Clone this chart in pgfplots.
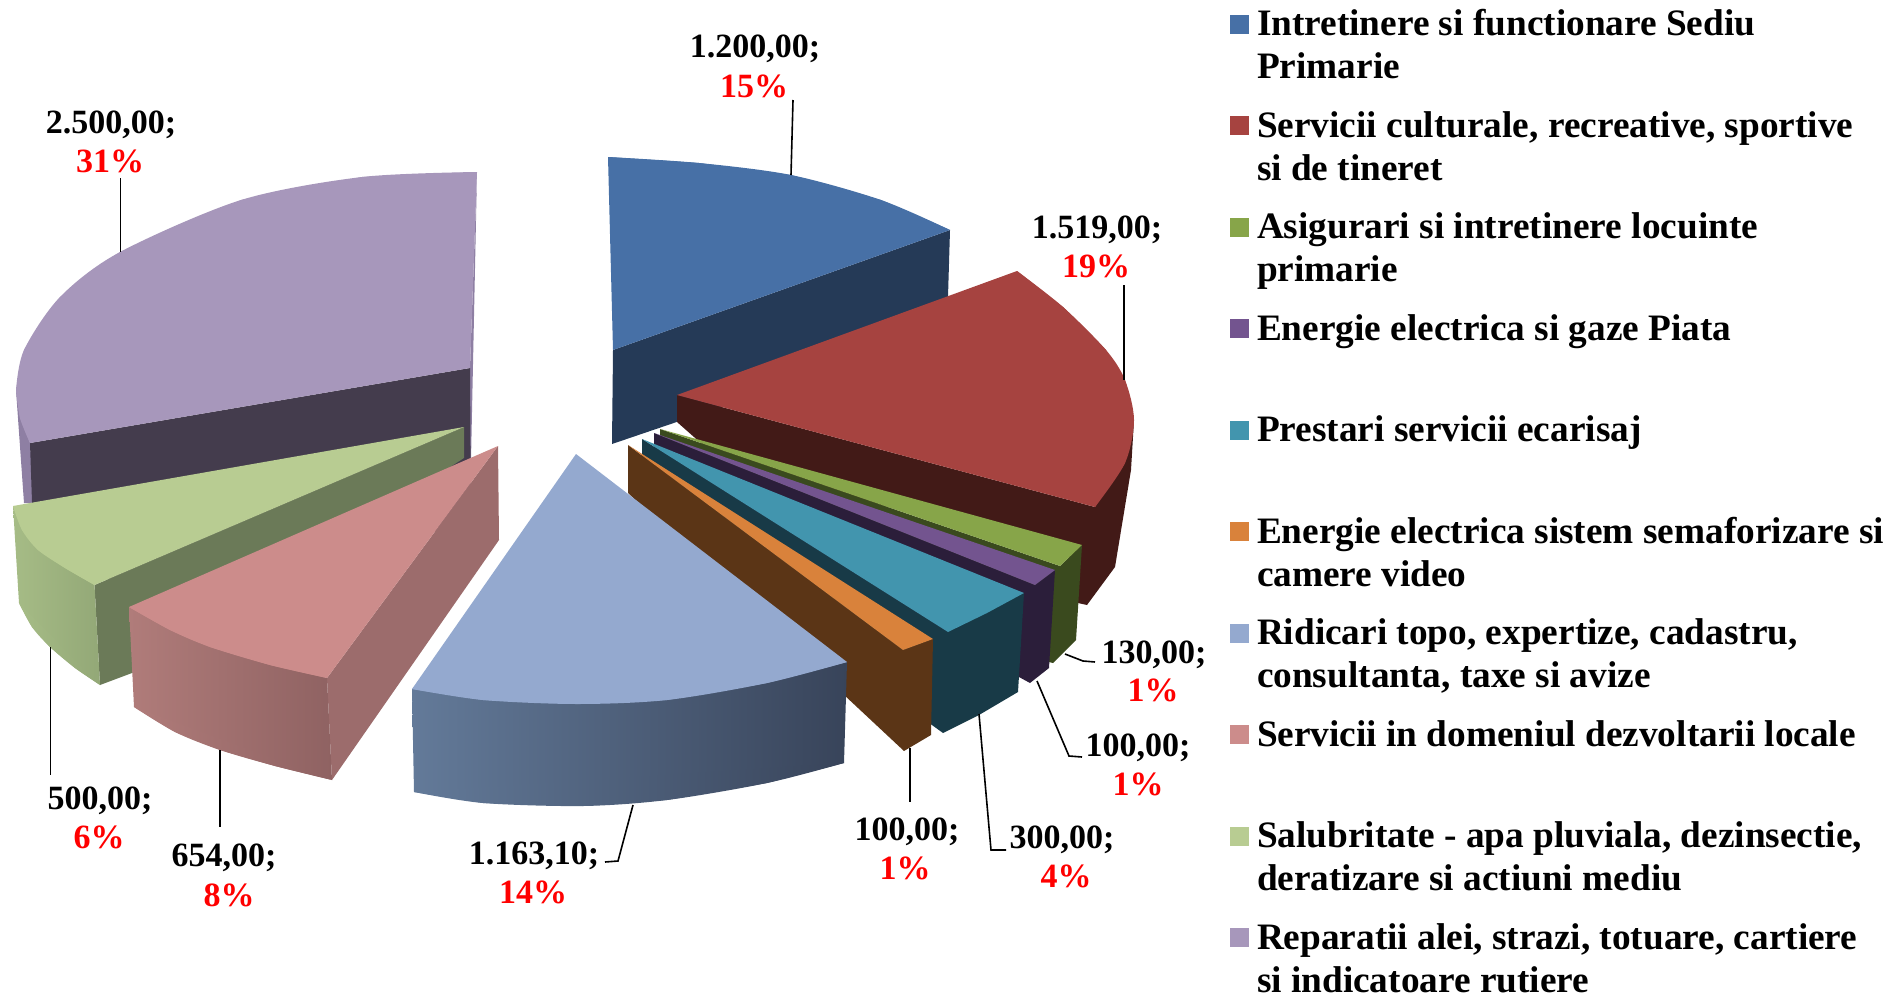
\documentclass[border=0pt]{standalone}
\usepackage{fontspec}
\setmainfont{Liberation Serif}
\usepackage{pgfplots}
\pgfplotsset{compat=1.18}
\definecolor{cA}{HTML}{4770A6}\definecolor{cAd}{HTML}{253A57}
\definecolor{cB}{HTML}{A64340}\definecolor{cBd}{HTML}{421A17}
\definecolor{cC}{HTML}{87A549}\definecolor{cCd}{HTML}{3A4A1E}
\definecolor{cD}{HTML}{73548F}\definecolor{cDd}{HTML}{2B1E3A}
\definecolor{cE}{HTML}{4295AE}\definecolor{cEd}{HTML}{183A47}
\definecolor{cF}{HTML}{D9823B}\definecolor{cFd}{HTML}{5B3516}
\definecolor{cG}{HTML}{94A9CF}\definecolor{cGl}{HTML}{637A99}\definecolor{cGr}{HTML}{38445A}
\definecolor{cH}{HTML}{CC8C8B}\definecolor{cHd}{HTML}{9C6C6C}\definecolor{cHl}{HTML}{B07C7A}\definecolor{cHr}{HTML}{8F6262}
\definecolor{cI}{HTML}{B8CC92}\definecolor{cId}{HTML}{6B7A58}\definecolor{cIl}{HTML}{A6BC86}\definecolor{cIr}{HTML}{93A877}
\definecolor{cJ}{HTML}{A797BB}\definecolor{cJd}{HTML}{443C4D}\definecolor{cJs}{HTML}{8E7FA3}
\newcommand{\lgd}[1]{\smash{\parbox[t]{640pt}{#1}}}
\newcommand{\lab}[6]{%
 \node[anchor=base,text=black] at (axis cs:#1,#2) {#5};
 \node[anchor=base,text=red] at (axis cs:#3,#4) {#6};}
\begin{document}
\begin{tikzpicture}
\useasboundingbox (0,0) rectangle (1890pt,996pt);
\begin{axis}[
 at={(0,0)},anchor=south west,
 scale only axis,width=1890pt,height=996pt,
 xmin=0,xmax=1890,ymin=0,ymax=996,y dir=reverse,
 hide axis,clip=false,
 font=\fontsize{34}{43}\selectfont\bfseries,
 nodes={inner sep=0pt,outer sep=0pt},
 legend image code/.code={\fill[#1] (0pt,21pt) rectangle (19pt,40pt);},
 legend cell align=left,
 legend style={draw=none,fill=none,inner sep=0pt,outer sep=0pt,row sep=0pt,
   at={(axis cs:1230,4)},anchor=north west,
   font=\fontsize{37.3}{43}\selectfont\bfseries,
   nodes={inner sep=0pt,outer sep=0pt,text height=31.5pt,text depth=70pt},
   /tikz/every odd column/.append style={column sep=8pt}},
 every axis plot/.append style={forget plot,draw=none},
]
\addlegendimage{fill=cA}\addlegendentry{\lgd{Intretinere si functionare Sediu\\Primarie}}
\addlegendimage{fill=cB}\addlegendentry{\lgd{Servicii culturale, recreative, sportive\\si de tineret}}
\addlegendimage{fill=cC}\addlegendentry{\lgd{Asigurari si intretinere locuinte\\primarie}}
\addlegendimage{fill=cD}\addlegendentry{\lgd{Energie electrica si gaze Piata}}
\addlegendimage{fill=cE}\addlegendentry{\lgd{Prestari servicii ecarisaj}}
\addlegendimage{fill=cF}\addlegendentry{\lgd{Energie electrica sistem semaforizare si\\camere video}}
\addlegendimage{fill=cG}\addlegendentry{\lgd{Ridicari topo, expertize, cadastru,\\consultanta, taxe si avize}}
\addlegendimage{fill=cH}\addlegendentry{\lgd{Servicii in domeniul dezvoltarii locale}}
\addlegendimage{fill=cI}\addlegendentry{\lgd{Salubritate - apa pluviala, dezinsectie,\\deratizare si actiuni mediu}}
\addlegendimage{fill=cJ}\addlegendentry{\lgd{Reparatii alei, strazi, totuare, cartiere\\si indicatoare rutiere}}

% Reparatii (lilac)
\addplot[fill=cJs] coordinates {(16,390)(24,503)(35,503)(30,443)(16,390)};
\addplot[fill=cJs] coordinates {(477,172)(471,460)(468,460)(470,368)(477,172)};
\addplot[fill=cJd] coordinates {(30,443)(470,368)(471,526)(35,590)(30,443)};
\addplot[fill=cJ] coordinates {(477,172)(362,177)(241,200)(120,252)(60,297)(24,350)(16,390)(20,418)(30,443)(470,368)(477,172)};
\addplot[fill=cJ,smooth] coordinates {(477,172)(362,177)(241,200)(120,252)(60,297)(24,350)(16,390)};
\addplot[fill=cJ,smooth] coordinates {(16,390)(20,418)(30,443)};
% Intretinere (blue)
\addplot[fill=cAd] coordinates {(613,350)(950,230)(947,330)(612,444)(613,350)};
\addplot[fill=cA] coordinates {(608,157)(699,163)(791,175)(881,200)(950,230)(613,350)(608,157)};
\addplot[fill=cA,smooth] coordinates {(608,157)(699,163)(791,175)(881,200)(950,230)};
% Servicii culturale (red)
\addplot[fill=cBd] coordinates {(677,395)(1095,507)(1134,420)(1131,470)(1115,567)(1087,605)(1078,603)(1078,560)(720,460)(677,422)(677,395)};
\addplot[fill=cB] coordinates {(677,395)(1017,271)(1063,307)(1106,350)(1125,380)(1134,420)(1125,463)(1095,507)(677,395)};
\addplot[fill=cB,smooth] coordinates {(1017,271)(1063,307)(1106,350)(1125,380)(1134,420)(1125,463)(1095,507)};
% Asigurari (green)
\addplot[fill=cCd] coordinates {(660,429)(1060,566)(1082,545)(1076,640)(1053,663)(1040,660)(660,440)(660,429)};
\addplot[fill=cC] coordinates {(660,429)(1082,545)(1060,566)(660,429)};
% Energie Piata (purple)
\addplot[fill=cDd] coordinates {(654,433)(1035,585)(1055,570)(1049,668)(1030,683)(1019,677)(654,450)(654,433)};
\addplot[fill=cD] coordinates {(654,433)(1055,570)(1035,585)(654,433)};
% Ecarisaj (teal)
\addplot[fill=cEd] coordinates {(642,439)(948,632)(1024,593)(1018,692)(979,715)(943,733)(925,720)(642,470)(642,439)};
\addplot[fill=cE] coordinates {(642,439)(1024,593)(987,613)(948,632)(642,439)};
% Semaforizare (orange)
\addplot[fill=cFd] coordinates {(628,445)(903,650)(933,639)(931,735)(904,751)(628,493)(628,445)};
\addplot[fill=cF] coordinates {(628,445)(933,639)(903,650)(628,445)};
% Ridicari (light blue)
\addplot[left color=cGl,right color=cGr] coordinates {(412,689)(847,662)(844,763)(767,783)(667,800)(583,806)(483,803)(414,792)(412,689)};
\addplot[left color=cGl,right color=cGr,smooth] coordinates {(414,792)(483,803)(583,806)(667,800)(767,783)(844,763)};
\addplot[fill=cG] coordinates {(576,454)(847,662)(767,683)(667,700)(577,704)(483,700)(412,689)(576,454)};
\addplot[fill=cG,smooth] coordinates {(847,662)(767,683)(667,700)(577,704)(483,700)(412,689)};
% Salubritate (light green)
\addplot[fill=cId] coordinates {(464,427)(94.5,585)(100,685)(132,673)(464,458)(464,427)};
\addplot[left color=cIl,right color=cIr] coordinates {(13,506)(94.5,585)(100,685)(75,668)(50,647)(32,627)(19,603)(13,506)};
\addplot[left color=cIl,right color=cIr,smooth] coordinates {(19,603)(32,627)(50,647)(75,668)(100,685)};
\addplot[fill=cI] coordinates {(464,427)(13,506)(22,530)(38,550)(65,568)(94.5,585)(464,427)};
\addplot[fill=cI,smooth] coordinates {(13,506)(22,530)(38,550)(65,568)(94.5,585)};
% Dezvoltare (pink)
\addplot[fill=cHd] coordinates {(498,446)(499,540)(332,780)(327,678)(498,446)};
\addplot[left color=cHl,right color=cHr] coordinates {(129,607)(327,678)(332,780)(275,766)(220,750)(175,732)(134,707)(129,607)};
\addplot[left color=cHl,right color=cHr,smooth] coordinates {(134,707)(175,732)(220,750)(275,766)(332,780)};
\addplot[fill=cH] coordinates {(498,446)(327,678)(270,665)(210,647)(170,630)(129,607)(498,446)};
\addplot[fill=cH,smooth] coordinates {(129,607)(170,630)(210,647)(270,665)(327,678)};

% leaders
\addplot[draw=black,line width=1.6pt] coordinates {(793,100)(791,175)};
\addplot[draw=black,line width=1.6pt] coordinates {(1124,285)(1124,380)};
\addplot[draw=black,line width=1.6pt] coordinates {(120.5,178)(120.5,252)};
\addplot[draw=black,line width=1.6pt] coordinates {(50.5,647)(50.5,775)};
\addplot[draw=black,line width=1.6pt] coordinates {(220,750)(220,827)};
\addplot[draw=black,line width=1.6pt] coordinates {(633,805)(618,861)(605,862)};
\addplot[draw=black,line width=1.6pt] coordinates {(910,748)(910,802)};
\addplot[draw=black,line width=1.6pt] coordinates {(979,714)(991,850)(1006,850)};
\addplot[draw=black,line width=1.6pt] coordinates {(1037,681)(1069,756)(1082,757)};
\addplot[draw=black,line width=1.6pt] coordinates {(1065,654)(1083,661)(1095,662)};

\lab{755}{57}{754}{97}{1.200,00;}{15\%}
\lab{1097}{238}{1096}{277}{1.519,00;}{19\%}
\lab{1154}{663}{1153}{701}{130,00;}{1\%}
\lab{1138}{756}{1138}{795}{100,00;}{1\%}
\lab{1062}{848}{1066}{887}{300,00;}{4\%}
\lab{907}{840}{905}{879}{100,00;}{1\%}
\lab{534}{864}{533}{903}{1.163,10;}{14\%}
\lab{224}{866}{229}{906}{654,00;}{8\%}
\lab{100}{809}{99}{848}{500,00;}{6\%}
\lab{111}{133}{110}{172}{2.500,00;}{31\%}
\end{axis}
\end{tikzpicture}
\end{document}
